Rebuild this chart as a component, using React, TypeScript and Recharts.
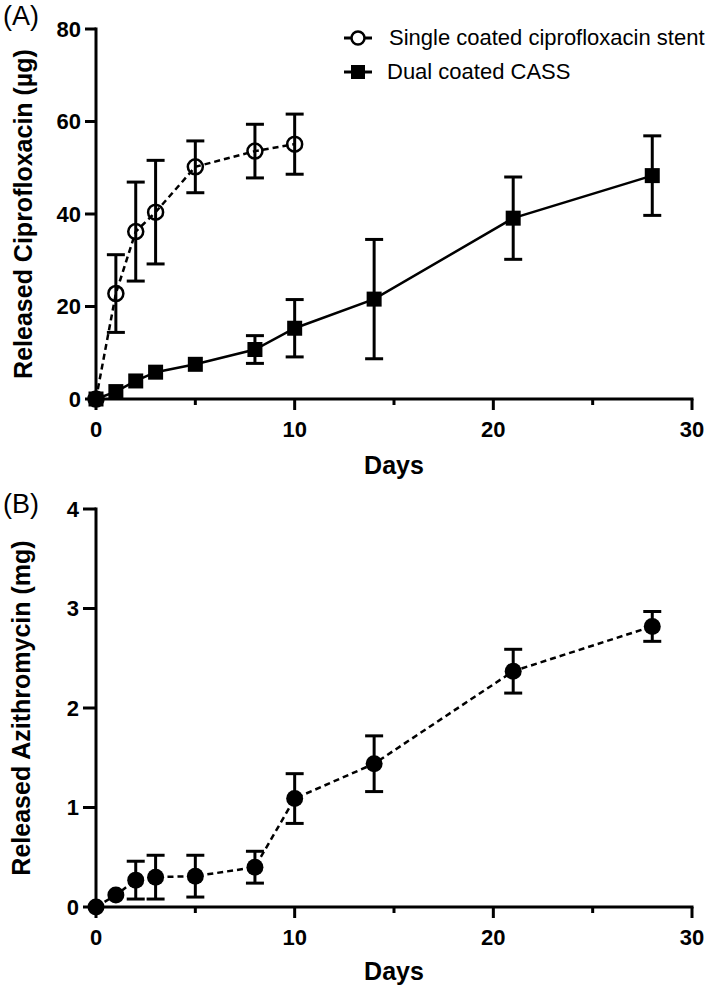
import React from "react";
import { LineChart, Line, XAxis, YAxis, ErrorBar } from "recharts";

// panel A - ciprofloxacin release (µg)
const singleDays = [0, 1, 2, 3, 5, 8, 10];
const singleMean = [0, 22.8, 36.2, 40.4, 50.2, 53.6, 55.1];
const singleSd = [null, 8.4, 10.7, 11.2, 5.6, 5.8, 6.5];

const dualDays = [0, 1, 2, 3, 5, 8, 10, 14, 21, 28];
const dualMean = [0, 1.6, 3.9, 5.8, 7.5, 10.7, 15.3, 21.6, 39.1, 48.3];
const dualSd = [null, null, null, null, null, 3.0, 6.2, 12.9, 8.9, 8.6];

// panel B - azithromycin release (mg)
const aziDays = [0, 1, 2, 3, 5, 8, 10, 14, 21, 28];
const aziMean = [0, 0.12, 0.27, 0.3, 0.31, 0.4, 1.09, 1.44, 2.37, 2.82];
const aziSd = [null, null, 0.19, 0.22, 0.21, 0.16, 0.25, 0.28, 0.22, 0.15];

const xTicks = [0, 5, 10, 15, 20, 25, 30];
const yTicksA = [0, 20, 40, 60, 80];
const yTicksB = [0, 1, 2, 3, 4];
const seriesNames = ["Single coated ciprofloxacin stent", "Dual coated CASS"];

const toRows = (days: number[], mean: number[], sd: (number | null)[]) =>
  days.map((d, i) => ({ day: d, value: mean[i], sd: sd[i] }));

const singleData = toRows(singleDays, singleMean, singleSd);
const dualData = toRows(dualDays, dualMean, dualSd);
const aziData = toRows(aziDays, aziMean, aziSd);

const FONT = "'Liberation Sans', Arial, sans-serif";

function XTick(props: any) {
  const { x, y, payload } = props;
  const major = payload.value % 10 === 0;
  return (
    <g>
      <line x1={x} x2={x} y1={y} y2={y + (major ? 11 : 6)} stroke="#000" strokeWidth={3} />
      {major && (
        <text x={x} y={y + 22} dy="0.71em" textAnchor="middle" fontSize={22} fontWeight="bold" fill="#000">
          {payload.value}
        </text>
      )}
    </g>
  );
}

const squareDot = (p: any) => (
  <rect key={`sq-${p.index}`} x={p.cx - 7.5} y={p.cy - 7.5} width={15} height={15} fill="#000" />
);

const axisLine = { stroke: "#000", strokeWidth: 3, strokeLinecap: "square" as const };
const yTick = { fill: "#000", fontSize: 22, fontWeight: "bold" };
const titleStyle = { fontSize: 25, fontWeight: "bold", fill: "#000" };

function LegendA() {
  return (
    <>
      {seriesNames.map((name, i) => {
        const cy = i === 0 ? 38 : 72;
        return (
          <div key={name}>
            <svg width={30} height={20} style={{ position: "absolute", left: 343, top: cy - 10 }}>
              <line x1={1} x2={29} y1={10} y2={10} stroke="#000" strokeWidth={3} />
              {i === 0 ? (
                <circle cx={15} cy={10} r={6.5} fill="#fff" stroke="#000" strokeWidth={2.5} />
              ) : (
                <rect x={8} y={3} width={14} height={14} fill="#000" />
              )}
            </svg>
            <div
              style={{
                position: "absolute",
                left: i === 0 ? 389 : 387,
                top: cy - 13,
                height: 26,
                lineHeight: "26px",
                fontSize: 22,
                whiteSpace: "nowrap",
              }}
            >
              {name}
            </div>
          </div>
        );
      })}
    </>
  );
}

export default function App() {
  return (
    <div
      style={{
        position: "absolute",
        left: 0,
        top: 0,
        width: 709,
        height: 992,
        background: "#fff",
        fontFamily: FONT,
        color: "#000",
      }}
    >
      <div style={{ position: "absolute", left: 0, top: 0, width: 709, height: 490 }}>
        <LineChart width={709} height={490} margin={{ top: 29, right: 17, bottom: 11, left: 0 }}>
          <XAxis
            type="number"
            dataKey="day"
            domain={[0, 30]}
            ticks={xTicks}
            interval={0}
            height={80}
            tickSize={0}
            tickMargin={0}
            tickLine={false}
            axisLine={axisLine}
            tick={<XTick />}
            label={{ value: "Days", position: "insideBottom", offset: 5, style: titleStyle }}
          />
          <YAxis
            type="number"
            domain={[0, 80]}
            ticks={yTicksA}
            interval={0}
            width={96}
            tickSize={11}
            tickMargin={4}
            tickLine={{ stroke: "#000", strokeWidth: 3 }}
            axisLine={axisLine}
            tick={yTick}
            label={{
              value: "Released Ciprofloxacin (µg)",
              angle: -90,
              position: "insideLeft",
              offset: 23,
              style: { ...titleStyle, textAnchor: "middle" },
            }}
          />
          <Line
            data={singleData}
            dataKey="value"
            type="linear"
            stroke="#000"
            strokeWidth={2.5}
            strokeDasharray="6 4"
            dot={{ r: 7.5, fill: "none", stroke: "#000", strokeWidth: 2.5, strokeDasharray: "none" }}
            isAnimationActive={false}
          >
            <ErrorBar dataKey="sd" direction="y" width={9} stroke="#000" strokeWidth={3} />
          </Line>
          <Line
            data={dualData}
            dataKey="value"
            type="linear"
            stroke="#000"
            strokeWidth={2.5}
            dot={squareDot}
            isAnimationActive={false}
          >
            <ErrorBar dataKey="sd" direction="y" width={9} stroke="#000" strokeWidth={3} />
          </Line>
        </LineChart>
        <LegendA />
        <div style={{ position: "absolute", left: 3, top: 0, fontSize: 27, lineHeight: "32px" }}>(A)</div>
      </div>

      <div style={{ position: "absolute", left: 0, top: 490, width: 709, height: 502 }}>
        <LineChart width={709} height={502} margin={{ top: 19, right: 17, bottom: 5, left: 0 }}>
          <XAxis
            type="number"
            dataKey="day"
            domain={[0, 30]}
            ticks={xTicks}
            interval={0}
            height={80}
            tickSize={0}
            tickMargin={0}
            tickLine={false}
            axisLine={axisLine}
            tick={<XTick />}
            label={{ value: "Days", position: "insideBottom", offset: 7, style: titleStyle }}
          />
          <YAxis
            type="number"
            domain={[0, 4]}
            ticks={yTicksB}
            interval={0}
            width={96}
            tickSize={13}
            tickMargin={4}
            tickLine={{ stroke: "#000", strokeWidth: 3 }}
            axisLine={axisLine}
            tick={yTick}
            label={{
              value: "Released Azithromycin (mg)",
              angle: -90,
              position: "insideLeft",
              offset: 21,
              style: { ...titleStyle, textAnchor: "middle" },
            }}
          />
          <Line
            data={aziData}
            dataKey="value"
            type="linear"
            stroke="#000"
            strokeWidth={2.5}
            strokeDasharray="6 4"
            dot={{ r: 8.5, fill: "#000", stroke: "none", strokeDasharray: "none" }}
            isAnimationActive={false}
          >
            <ErrorBar dataKey="sd" direction="y" width={9} stroke="#000" strokeWidth={3} />
          </Line>
        </LineChart>
        <div style={{ position: "absolute", left: 3, top: -2, fontSize: 27, lineHeight: "32px" }}>(B)</div>
      </div>
    </div>
  );
}
